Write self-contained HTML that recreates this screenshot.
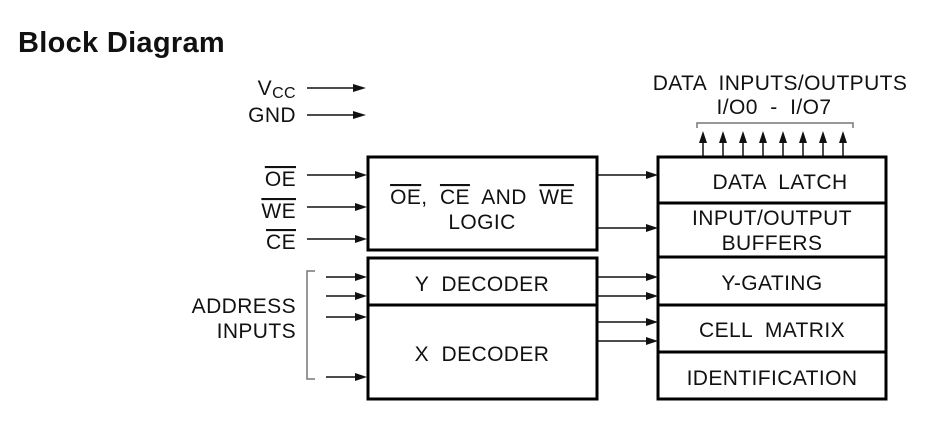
<!DOCTYPE html>
<html><head><style>
body{margin:0;background:#fff;}
svg{display:block;}
text{font-family:"Liberation Sans",Arial,sans-serif;fill:#111;white-space:pre;}
.o{text-decoration:overline;}
</style></head><body>
<svg width="933" height="426" viewBox="0 0 933 426" xmlns="http://www.w3.org/2000/svg" xml:space="preserve">
<text x="18" y="52" font-size="29" font-weight="bold" letter-spacing="0.3">Block Diagram</text>
<g font-size="21" text-anchor="end" letter-spacing="0.4">
<text x="296" y="95">V<tspan font-size="16" dy="3">CC</tspan></text>
<text x="296" y="122">GND</text>
<text x="296" y="186" class="o">OE</text>
<text x="296" y="218" class="o">WE</text>
<text x="296" y="249" class="o">CE</text>
<text x="296" y="313">ADDRESS</text>
<text x="296" y="338">INPUTS</text>
</g>
<g stroke="#111" stroke-width="1.5" fill="none">
<path d="M315 271 H307 V379 H315" stroke="#777"/>
<path d="M697 128 V123 H853 V128" stroke="#777"/>
</g>
<g stroke="#111" stroke-width="1.5">
<line x1="307" y1="88" x2="354" y2="88"/>
<line x1="307" y1="115" x2="354" y2="115"/>
<line x1="307" y1="175" x2="356" y2="175"/>
<line x1="307" y1="207" x2="356" y2="207"/>
<line x1="307" y1="239" x2="356" y2="239"/>
<line x1="326" y1="277" x2="356" y2="277"/>
<line x1="326" y1="296" x2="356" y2="296"/>
<line x1="326" y1="317" x2="356" y2="317"/>
<line x1="326" y1="377" x2="356" y2="377"/>
<line x1="598" y1="175" x2="647" y2="175"/>
<line x1="598" y1="228" x2="647" y2="228"/>
<line x1="598" y1="277" x2="647" y2="277"/>
<line x1="598" y1="296" x2="647" y2="296"/>
<line x1="598" y1="322" x2="647" y2="322"/>
<line x1="598" y1="341" x2="647" y2="341"/>
<line x1="703" y1="156" x2="703" y2="140"/>
<line x1="723" y1="156" x2="723" y2="140"/>
<line x1="743" y1="156" x2="743" y2="140"/>
<line x1="763" y1="156" x2="763" y2="140"/>
<line x1="783" y1="156" x2="783" y2="140"/>
<line x1="803" y1="156" x2="803" y2="140"/>
<line x1="823" y1="156" x2="823" y2="140"/>
<line x1="843" y1="156" x2="843" y2="140"/>
</g>
<g fill="#111">
<polygon points="353,84 366,88 353,92"/>
<polygon points="353,111 366,115 353,119"/>
<polygon points="355,171 367,175 355,179"/>
<polygon points="355,203 367,207 355,211"/>
<polygon points="355,235 367,239 355,243"/>
<polygon points="355,273 367,277 355,281"/>
<polygon points="355,292 367,296 355,300"/>
<polygon points="355,313 367,317 355,321"/>
<polygon points="355,373 367,377 355,381"/>
<polygon points="646,171 658,175 646,179"/>
<polygon points="646,224 658,228 646,232"/>
<polygon points="646,273 658,277 646,281"/>
<polygon points="646,292 658,296 646,300"/>
<polygon points="646,318 658,322 646,326"/>
<polygon points="646,337 658,341 646,345"/>
<polygon points="699,143 703,131 707,143"/>
<polygon points="719,143 723,131 727,143"/>
<polygon points="739,143 743,131 747,143"/>
<polygon points="759,143 763,131 767,143"/>
<polygon points="779,143 783,131 787,143"/>
<polygon points="799,143 803,131 807,143"/>
<polygon points="819,143 823,131 827,143"/>
<polygon points="839,143 843,131 847,143"/>
</g>
<g stroke="#000" stroke-width="3" fill="none">
<rect x="368" y="157" width="229" height="93"/>
<rect x="368" y="258" width="229" height="141"/>
<line x1="368" y1="305" x2="597" y2="305"/>
<rect x="658" y="157" width="228" height="242"/>
<line x1="658" y1="203" x2="886" y2="203"/>
<line x1="658" y1="257" x2="886" y2="257"/>
<line x1="658" y1="305" x2="886" y2="305"/>
<line x1="658" y1="352" x2="886" y2="352"/>
</g>
<g font-size="21" text-anchor="middle" letter-spacing="0.4">
<text x="482" y="204"><tspan class="o">OE</tspan>,  <tspan class="o">CE</tspan>  AND  <tspan class="o">WE</tspan></text>
<text x="482" y="229">LOGIC</text>
<text x="482" y="291">Y  DECODER</text>
<text x="482" y="361">X  DECODER</text>
<text x="780" y="90">DATA  INPUTS/OUTPUTS</text>
<text x="774" y="114">I/O0  -  I/O7</text>
<text x="780" y="189">DATA  LATCH</text>
<text x="772" y="225">INPUT/OUTPUT</text>
<text x="772" y="250">BUFFERS</text>
<text x="772" y="290">Y-GATING</text>
<text x="772" y="337">CELL  MATRIX</text>
<text x="772" y="385">IDENTIFICATION</text>
</g>
</svg>
</body></html>
